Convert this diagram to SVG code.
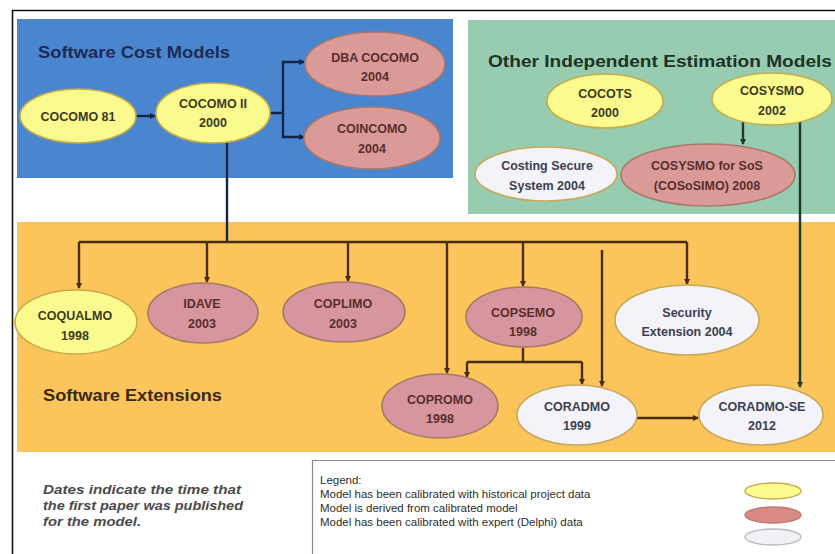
<svg xmlns="http://www.w3.org/2000/svg" width="835" height="554" viewBox="0 0 835 554">
  <style>
    .node text { font-family: "Liberation Sans", Arial, sans-serif; font-weight: bold; font-size: 12.5px; text-anchor: middle; }
    .cal { fill: #fbfa8e; stroke: #c4ac4a; stroke-width: 1.6; }
    .der { fill: #d99a98; stroke: #a9786a; stroke-width: 1.6; }
    .der2 { fill: #d6959f; stroke: #a87a62; stroke-width: 1.6; }
    .exp { fill: #f4f3fa; stroke: #c9a85a; stroke-width: 1.6; }
    .t-cal { fill: #3c3a20; }
    .t-der { fill: #5a2e2e; }
    .t-exp { fill: #3c4050; font-weight: normal; }
    .title { font-family: "Liberation Sans", Arial, sans-serif; font-weight: bold; font-size: 17px; }
    .conn path { fill: none; stroke-width: 2.4; }
    .blue path { stroke: #15244a; }
    .green path { stroke: #1f3a2a; }
    .orange path { stroke: #4a2c08; }
    .legend { font-family: "Liberation Sans", Arial, sans-serif; font-size: 11.5px; fill: #2e2e2e; }
    .note { font-family: "Liberation Sans", Arial, sans-serif; font-size: 13px; font-style: italic; font-weight: bold; fill: #4a4a4a; }
  </style>
  <defs>
    <marker id="arrowB" markerWidth="7" markerHeight="7" refX="5" refY="3" orient="auto" markerUnits="userSpaceOnUse">
      <path d="M0,0 L6,3 L0,6 z" fill="#15244a"/>
    </marker>
    <marker id="arrowG" markerWidth="7" markerHeight="7" refX="5" refY="3" orient="auto" markerUnits="userSpaceOnUse">
      <path d="M0,0 L6,3 L0,6 z" fill="#1f3a2a"/>
    </marker>
    <marker id="arrowO" markerWidth="7" markerHeight="7" refX="5" refY="3" orient="auto" markerUnits="userSpaceOnUse">
      <path d="M0,0 L6,3 L0,6 z" fill="#4a2c08"/>
    </marker>
  </defs>

  <rect x="0" y="0" width="835" height="554" fill="#ffffff"/>

  <!-- outer frame -->
  <path d="M12.5,554 V10.5 H835" fill="none" stroke="#111" stroke-width="1.6"/>

  <!-- panels -->
  <g id="panels">
    <rect x="17" y="19" width="436" height="159" fill="#4a86cf"/>
    <rect x="468" y="20" width="367" height="194" fill="#97ccb0"/>
    <rect x="17" y="222" width="818" height="230" fill="#fbc55c"/>
    <text class="title" x="38" y="58" fill="#1c2b55" textLength="192" lengthAdjust="spacingAndGlyphs">Software Cost Models</text>
    <text class="title" x="488" y="67" fill="#1e3226" textLength="344" lengthAdjust="spacingAndGlyphs">Other Independent Estimation Models</text>
    <text class="title" x="43" y="401" fill="#3a2a12" textLength="179" lengthAdjust="spacingAndGlyphs">Software Extensions</text>
  </g>

  <!-- connectors -->
  <g id="connectors" class="conn">
    <g class="blue">
      <path d="M136,116 H155" marker-end="url(#arrowB)"/>
      <path d="M270,113 H283 V62 H304" marker-end="url(#arrowB)"/>
      <path d="M283,113 V137 H304" marker-end="url(#arrowB)"/>
      <path d="M227,143 V242"/>
    </g>
    <g class="green">
      <path d="M743,122 V144" marker-end="url(#arrowG)"/>
      <path d="M800,122 V387" marker-end="url(#arrowG)"/>
    </g>
    <g class="orange">
      <path d="M79,242 H687"/>
      <path d="M79,242 V288" marker-end="url(#arrowO)"/>
      <path d="M207,242 V282" marker-end="url(#arrowO)"/>
      <path d="M348,242 V281" marker-end="url(#arrowO)"/>
      <path d="M447,242 V373" marker-end="url(#arrowO)"/>
      <path d="M523,242 V286" marker-end="url(#arrowO)"/>
      <path d="M687,242 V284" marker-end="url(#arrowO)"/>
      <path d="M602,250 V386" marker-end="url(#arrowO)"/>
      <path d="M523,348 V362"/>
      <path d="M467,362 H582"/>
      <path d="M467,362 V377" marker-end="url(#arrowO)"/>
      <path d="M582,362 V384" marker-end="url(#arrowO)"/>
      <path d="M637,418 H698" marker-end="url(#arrowO)"/>
    </g>
  </g>

  <!-- software cost models -->
  <g id="cocomo81" class="node">
    <ellipse class="cal" cx="78" cy="116" rx="58" ry="27"/>
    <text class="t-cal" x="78" y="121">COCOMO 81</text>
  </g>
  <g id="cocomo2" class="node">
    <ellipse class="cal" cx="213" cy="113" rx="57" ry="30"/>
    <text class="t-cal" x="213" y="108">COCOMO II</text>
    <text class="t-cal" x="213" y="127">2000</text>
  </g>
  <g id="dbacocomo" class="node">
    <ellipse class="der" cx="375" cy="64" rx="70" ry="32"/>
    <text class="t-der" x="375" y="62">DBA COCOMO</text>
    <text class="t-der" x="375" y="81">2004</text>
  </g>
  <g id="coincomo" class="node">
    <ellipse class="der" cx="372" cy="138" rx="68" ry="31"/>
    <text class="t-der" x="372" y="133">COINCOMO</text>
    <text class="t-der" x="372" y="153">2004</text>
  </g>

  <!-- other independent estimation models -->
  <g id="cocots" class="node">
    <ellipse class="cal" cx="605" cy="101" rx="58" ry="27"/>
    <text class="t-cal" x="605" y="98">COCOTS</text>
    <text class="t-cal" x="605" y="117">2000</text>
  </g>
  <g id="cosysmo" class="node">
    <ellipse class="cal" cx="772" cy="99" rx="60" ry="26"/>
    <text class="t-cal" x="772" y="95">COSYSMO</text>
    <text class="t-cal" x="772" y="115">2002</text>
  </g>
  <g id="costingsecure" class="node">
    <ellipse class="exp" cx="546" cy="174" rx="71" ry="27"/>
    <text class="t-exp" x="547" y="170">Costing Secure</text>
    <text class="t-exp" x="547" y="190">System 2004</text>
  </g>
  <g id="cososimo" class="node">
    <ellipse class="der" cx="708" cy="175" rx="87" ry="31" fill="#d9858c"/>
    <text class="t-der" x="707" y="170">COSYSMO for SoS</text>
    <text class="t-der" x="707" y="190">(COSoSIMO) 2008</text>
  </g>

  <!-- software extensions -->
  <g id="coqualmo" class="node">
    <ellipse class="cal" cx="76" cy="322" rx="61" ry="32"/>
    <text class="t-cal" x="75" y="320">COQUALMO</text>
    <text class="t-cal" x="75" y="340">1998</text>
  </g>
  <g id="idave" class="node">
    <ellipse class="der2" cx="203" cy="313" rx="55" ry="30"/>
    <text class="t-der" x="202" y="308">IDAVE</text>
    <text class="t-der" x="202" y="328">2003</text>
  </g>
  <g id="coplimo" class="node">
    <ellipse class="der2" cx="344" cy="312" rx="61" ry="30"/>
    <text class="t-der" x="343" y="308">COPLIMO</text>
    <text class="t-der" x="343" y="328">2003</text>
  </g>
  <g id="copsemo" class="node">
    <ellipse class="der2" cx="524" cy="317" rx="58" ry="30"/>
    <text class="t-der" x="523" y="317">COPSEMO</text>
    <text class="t-der" x="523" y="336">1998</text>
  </g>
  <g id="security" class="node">
    <ellipse class="exp" cx="687" cy="320" rx="72" ry="35"/>
    <text class="t-exp" x="687" y="317">Security</text>
    <text class="t-exp" x="687" y="336">Extension 2004</text>
  </g>
  <g id="copromo" class="node">
    <ellipse class="der2" cx="440" cy="406" rx="58" ry="32"/>
    <text class="t-der" x="440" y="404">COPROMO</text>
    <text class="t-der" x="440" y="423">1998</text>
  </g>
  <g id="coradmo" class="node">
    <ellipse class="exp" cx="577" cy="415" rx="60" ry="30"/>
    <text class="t-exp" x="577" y="411">CORADMO</text>
    <text class="t-exp" x="577" y="430">1999</text>
  </g>
  <g id="coradmose" class="node">
    <ellipse class="exp" cx="761" cy="415" rx="62" ry="30"/>
    <text class="t-exp" x="762" y="411">CORADMO-SE</text>
    <text class="t-exp" x="762" y="430">2012</text>
  </g>

  <!-- note -->
  <g id="note">
    <text class="note" x="43" y="494" textLength="198" lengthAdjust="spacingAndGlyphs">Dates indicate the time that</text>
    <text class="note" x="43" y="510" textLength="200" lengthAdjust="spacingAndGlyphs">the first paper was published</text>
    <text class="note" x="43" y="526" textLength="98" lengthAdjust="spacingAndGlyphs">for the model.</text>
  </g>

  <!-- legend -->
  <g id="legend">
    <path d="M312.5,554 V460.5 H835" fill="none" stroke="#8a8a8a" stroke-width="1.2"/>
    <text class="legend" x="320" y="484">Legend:</text>
    <text class="legend" x="320" y="498">Model has been calibrated with historical project data</text>
    <text class="legend" x="320" y="512">Model is derived from calibrated model</text>
    <text class="legend" x="320" y="526">Model has been calibrated with expert (Delphi) data</text>
    <ellipse cx="773" cy="491" rx="28" ry="8" fill="#fbfa8e" stroke="#c4ac4a" stroke-width="1.4"/>
    <ellipse cx="773" cy="515" rx="28" ry="8" fill="#d98a84" stroke="#c07870" stroke-width="1.4"/>
    <ellipse cx="773" cy="537" rx="28" ry="8" fill="#f0f0f6" stroke="#b8b8c0" stroke-width="1.4"/>
  </g>
</svg>
